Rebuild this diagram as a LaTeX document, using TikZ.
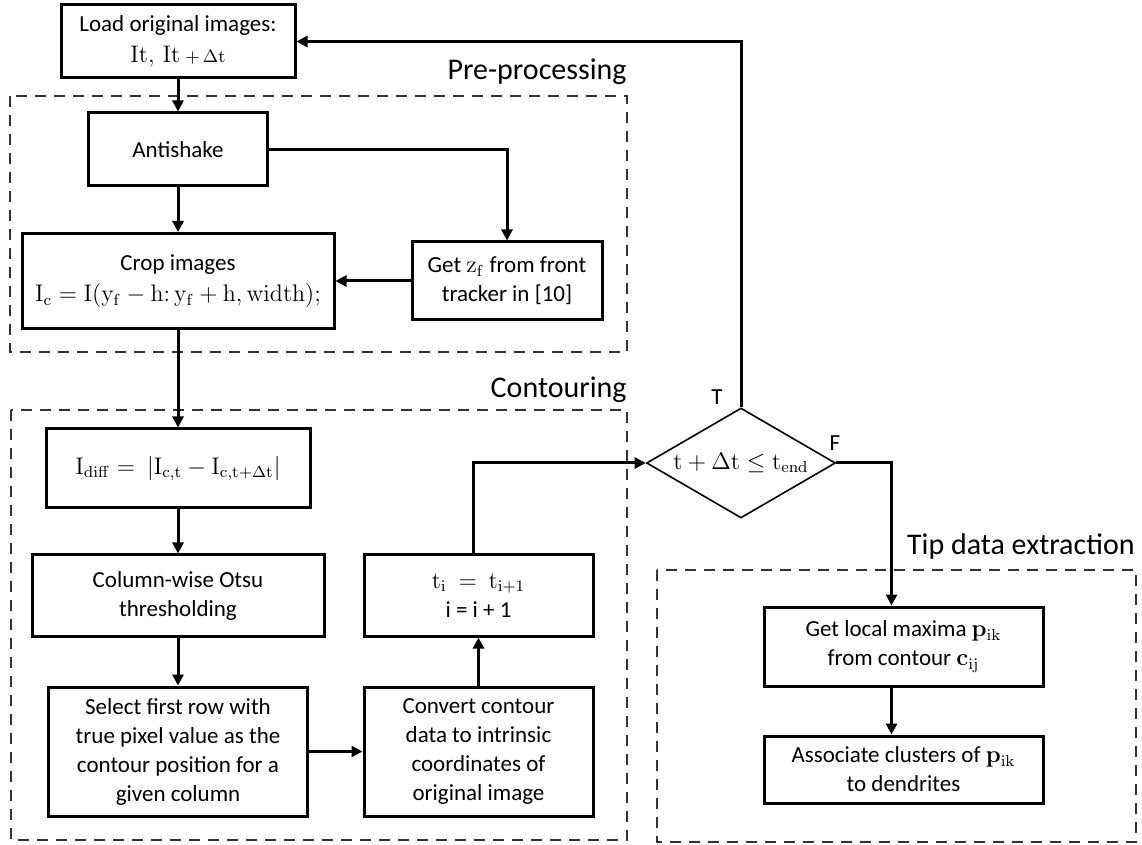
\documentclass[tikz,border=0pt]{standalone}
\usepackage[no-math]{fontspec}
\setmainfont{Carlito}
\usetikzlibrary{shapes.geometric,arrows.meta}
\begin{document}
\begin{tikzpicture}[x=0.5pt,y=-0.5pt]
    % Define the styles for the steps, groups and arrows
    \tikzstyle{stepbox}=[rectangle, draw=black, line width=1.5pt, fill=white, align=center, font=\fontsize{11.5}{14.5}\selectfont, inner sep=1pt]
    \tikzstyle{decision}=[diamond, draw=black, line width=0.8pt, fill=white, inner sep=0pt, aspect=1.7, font=\fontsize{11.5}{14.5}\selectfont]
    \tikzstyle{group}=[draw=black!80, line width=1.2pt, dash pattern=on 5.5pt off 4pt]
    \tikzstyle{grouplabel}=[font=\fontsize{15}{18}\selectfont, anchor=east, inner sep=0pt]
    \tikzstyle{flag}=[font=\fontsize{11.5}{14}\selectfont, inner sep=0pt]
    \tikzstyle{arrow}=[line width=1.5pt, -{Triangle[length=5.5pt,width=5.5pt]}]

    \useasboundingbox (0,0) rectangle (1142,845);

    % Draw the dashed groups and their titles
    \draw[group] (10,96) rectangle (627,352);
    \draw[group] (11,410) rectangle (627,840);
    \draw[group] (657,570) rectangle (1136,842);
    \node[grouplabel] (pre_label) at (627,72) {Pre-processing};
    \node[grouplabel] (cont_label) at (627,390) {Contouring};
    \node[grouplabel] (tip_label) at (1135,547) {Tip data extraction};

    % Draw the processes
    \node[stepbox, minimum width=117pt, minimum height=36.5pt] (load) at (178,41.5) {Load original images:\\[1pt] $\mathrm{It},\,\mathrm{It}$ {\small$+\,\Delta\mathrm{t}$}};
    \node[stepbox, minimum width=89.5pt, minimum height=36.5pt] (antishake) at (178,149.5) {Antishake};
    \node[stepbox, minimum width=156pt, minimum height=47.5pt] (crop) at (178,281) {Crop images\\[1pt] $\mathrm{I_c} = \mathrm{I}(\mathrm{y_f} - \mathrm{h}{:}\,\mathrm{y_f} + \mathrm{h}, \mathrm{width});$};
    \node[stepbox, minimum width=95pt, minimum height=39pt] (get_zf) at (507,281) {Get $\mathrm{z_f}$ from front\\ tracker in [10]};
    \node[stepbox, minimum width=132pt, minimum height=39.5pt] (i_diff) at (178,468.5) {$\mathrm{I_{diff}} = \ \left|\mathrm{I_{c,t}} - \mathrm{I_{c,t+\Delta t}}\right|$};
    \node[stepbox, minimum width=146pt, minimum height=40.5pt] (otsu) at (178,595.5) {Column-wise Otsu\\ thresholding};
    \node[stepbox, minimum width=129.5pt, minimum height=64.5pt] (select_row) at (178,751.5) {Select first row with\\ true pixel value as the\\ contour position for a\\ given column};
    \node[stepbox, minimum width=114.5pt, minimum height=64.5pt] (convert) at (478.5,751.5) {Convert contour\\ data to intrinsic\\ coordinates of\\ original image};
    \node[stepbox, minimum width=114.5pt, minimum height=40.5pt] (next_t) at (478.5,595.5) {$\mathrm{t_i} \ = \ \mathrm{t_{i+1}}$\\ i = i + 1};
    \node[decision, minimum width=94.5pt, minimum height=55pt] (check_t) at (741,463) {$\mathrm{t} + \Delta\mathrm{t} \leq \mathrm{t_{end}}$};
    \node[stepbox, minimum width=139.5pt, minimum height=39.5pt] (local_max) at (903.5,646.5) {Get local maxima $\mathbf{p}_{\mathrm{ik}}$\\ from contour $\mathbf{c}_{\mathrm{ij}}$};
    \node[stepbox, minimum width=139.5pt, minimum height=33.5pt] (associate) at (903.5,769.5) {Associate clusters of $\mathbf{p}_{\mathrm{ik}}$\\ to dendrites};

    % Draw the branch labels
    \node[flag] (t_flag) at (717,397) {T};
    \node[flag] (f_flag) at (835,443) {F};

    % Draw the arrows between the processes
    \draw[arrow] (load) -- (antishake);
    \draw[arrow] (antishake.east) -| (get_zf.north);
    \draw[arrow] (antishake) -- (crop);
    \draw[arrow] (get_zf) -- (crop);
    \draw[arrow] (crop) -- (i_diff);
    \draw[arrow] (i_diff) -- (otsu);
    \draw[arrow] (otsu) -- (select_row);
    \draw[arrow] (select_row) -- (convert);
    \draw[arrow] (convert) -- (next_t);
    \draw[arrow] ([xshift=-2.5pt]next_t.north) |- (check_t.west);
    \draw[arrow] (check_t.north) |- (load.east);
    \draw[arrow] (check_t.east) -| ([xshift=-6pt]local_max.north);
    \draw[arrow] ([xshift=-6pt]local_max.south) -- ([xshift=-6pt]associate.north);
\end{tikzpicture}
\end{document}
